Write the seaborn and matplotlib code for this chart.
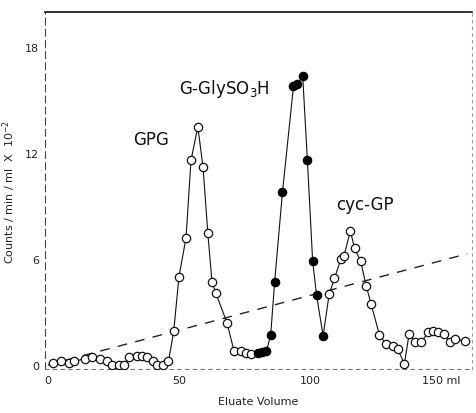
import matplotlib
matplotlib.use("Agg")
import matplotlib.pyplot as plt
import seaborn as sns
import pandas as pd

# ---- data ----
base_x = [2, 5, 8, 10, 14, 17, 20, 22.5, 24.5, 27, 29, 31, 34, 36, 38, 40, 41.6, 44, 46]
base_y = [0.1, 0.25, 0.1, 0.2, 0.35, 0.45, 0.35, 0.2, 0.0, 0.0, 0.0, 0.45, 0.5, 0.5, 0.45, 0.2, 0.0, 0.0, 0.2]

gpg_x = [48, 50, 52.7, 54.6, 57.2, 59.2, 61, 62.6, 64, 68.3, 71, 73.5, 75.5, 77.5]
gpg_y = [1.9, 5.0, 7.2, 11.6, 13.5, 11.2, 7.5, 4.7, 4.1, 2.4, 0.8, 0.8, 0.7, 0.6]

sulf_x = [80, 81.8, 83.4, 85, 86.5, 89.5, 93.7, 95.2, 97.2, 99, 101, 102.5, 105]
sulf_y = [0.7, 0.75, 0.8, 1.7, 4.7, 9.8, 15.8, 15.9, 16.4, 11.6, 5.9, 3.95, 1.65]

cyc_x = [107.3, 109.3, 111.8, 113, 115.4, 117, 119.3, 121.4, 123.3, 126.5, 129, 131.5,
         133.5, 136, 137.8, 140, 142.5, 145, 147, 149, 151, 153.5, 155.5, 159]
cyc_y = [4.0, 4.9, 6.0, 6.2, 7.6, 6.6, 5.9, 4.5, 3.45, 1.7, 1.2, 1.1,
         0.9, 0.05, 1.75, 1.3, 1.3, 1.85, 1.9, 1.85, 1.75, 1.3, 1.45, 1.35]

grad_x = [0, 160]
grad_y = [0, 6.3]

x_ticks = [0, 50, 100, 150]
x_ticklabels = ["0", "50", "100", "150 ml"]
y_ticks = [0, 6, 12, 18]
y_ticklabels = ["0", "6", "12", "18"]

labels = ["GPG", "G-GlySO$_3$H", "cyc-GP"]
label_x = [39.3, 67.2, 121.0]
label_y = [12.8, 15.7, 9.1]

# ---- build frames ----
open_df = pd.DataFrame({"vol": base_x + gpg_x + cyc_x, "cpm": base_y + gpg_y + cyc_y})
filled_df = pd.DataFrame({"vol": sulf_x, "cpm": sulf_y})
curve_df = pd.DataFrame({"vol": base_x + gpg_x + sulf_x + cyc_x,
                         "cpm": base_y + gpg_y + sulf_y + cyc_y})
grad_df = pd.DataFrame({"vol": grad_x, "cpm": grad_y})

sns.set_style("white")
plt.rcParams["font.family"] = ["DejaVu Sans"]

fig = plt.figure(figsize=(4.77, 4.14), dpi=100)
ax = fig.add_axes([45/477, 1 - 370/414, (472 - 45)/477, (370 - 13)/414])

sns.lineplot(data=grad_df, x="vol", y="cpm", ax=ax, color="#222222", lw=1.0,
             linestyle=(0, (7, 6)), sort=False)
sns.lineplot(data=curve_df, x="vol", y="cpm", ax=ax, color="#111111", lw=0.8,
             sort=False)
sns.scatterplot(data=open_df, x="vol", y="cpm", ax=ax, marker="o", s=36,
                facecolor="white", edgecolor="#111111", linewidth=0.9, zorder=3)
sns.scatterplot(data=filled_df, x="vol", y="cpm", ax=ax, marker="o", s=36,
                color="#000000", edgecolor="#000000", linewidth=0.9, zorder=4)

for t, lx, ly in zip(labels, label_x, label_y):
    ax.text(lx, ly, t, fontsize=12, color="#111111", ha="center", va="center")

ax.set_xlim(-1.1, 161.8)
ax.set_ylim(-0.23, 20.0)
ax.set_xticks(x_ticks)
ax.set_xticklabels(x_ticklabels)
ax.set_yticks(y_ticks)
ax.set_yticklabels(y_ticklabels)
ax.tick_params(axis="both", direction="in", length=4, width=0.8, labelsize=8,
               colors="#222222", pad=4)
ax.set_xlabel("Eluate Volume", fontsize=8, color="#222222", labelpad=8)
ax.set_ylabel("Counts / min / ml  X  10$^{-2}$", fontsize=8, color="#222222",
              labelpad=5)

ax.spines["top"].set_color("#111111")
ax.spines["top"].set_linewidth(1.2)
ax.spines["left"].set_color("#444444")
ax.spines["left"].set_linestyle((0, (6, 4)))
ax.spines["left"].set_linewidth(0.8)
ax.spines["right"].set_color("#999999")
ax.spines["right"].set_linestyle((0, (2, 4)))
ax.spines["right"].set_linewidth(0.8)
ax.spines["bottom"].set_color("#777777")
ax.spines["bottom"].set_linestyle((0, (3, 4)))
ax.spines["bottom"].set_linewidth(0.8)

fig.savefig("out.png", dpi=100)
